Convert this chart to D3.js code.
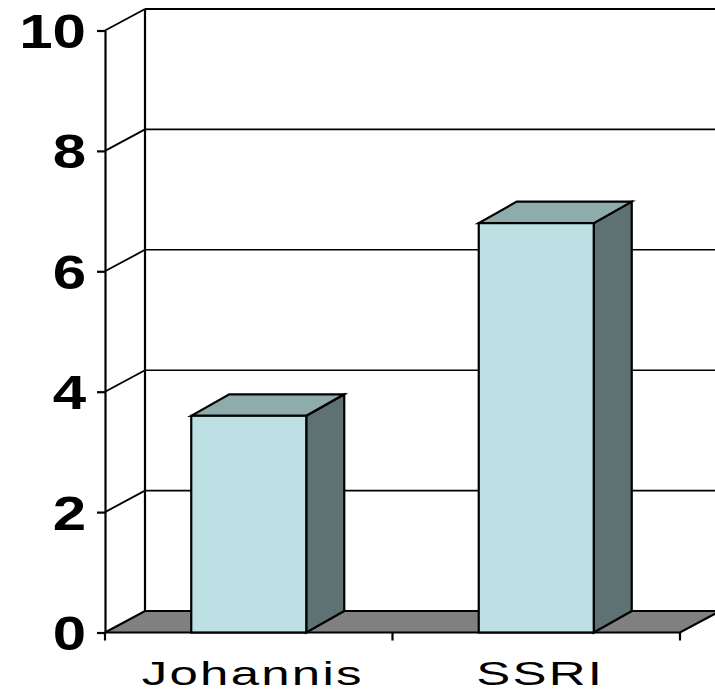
<!DOCTYPE html>
<html>
<head>
<meta charset="utf-8">
<script src="https://cdn.jsdelivr.net/npm/d3@7/dist/d3.min.js"></script>
<style>
  html, body { margin: 0; padding: 0; background: #fff; }
  svg { display: block; }
</style>
</head>
<body>
<svg id="chart" width="715" height="694"></svg>
<script>
// Data
const categories = ["Johannis", "SSRI"];
const values = [3.6, 6.8];
const yTicks = [0, 2, 4, 6, 8, 10];

// Colours
const faceFront = "#bce0e3";
const faceTop = "#8facac";
const faceSide = "#5e7273";
const floorFill = "#808080";

const svg = d3.select("#chart");

// Front plane of the 3-D box
const x = d3.scaleBand().domain(categories).range([105, 680]);
const y = d3.scaleLinear().domain([0, 10]).range([632.5, 30.5]);

// Depth offset of the back wall
const dx = 40, dy = -21.5;
const barDepth = 0.95;

const pt = (a, b) => a + "," + b;

// Back wall gridlines (horizontal) and left wall gridlines (slanted)
const grid = svg.append("g").attr("stroke", "#000").attr("fill", "none");
yTicks.filter(v => v > 0).forEach(v => {
  grid.append("line")
    .attr("x1", x.range()[0] + dx).attr("x2", 760)
    .attr("y1", y(v) + dy).attr("y2", y(v) + dy)
    .attr("stroke-width", v === 10 ? 2.2 : 1.6);
  grid.append("line")
    .attr("x1", x.range()[0]).attr("y1", y(v))
    .attr("x2", x.range()[0] + dx).attr("y2", y(v) + dy)
    .attr("stroke-width", 1.8);
});
// back wall left edge
grid.append("line")
  .attr("x1", x.range()[0] + dx).attr("x2", x.range()[0] + dx)
  .attr("y1", y(10) + dy).attr("y2", y(0) + dy)
  .attr("stroke-width", 2.2);

// Floor
const x0 = x.range()[0], x1 = x.range()[1];
svg.append("polygon")
  .attr("points", [pt(x0, y(0)), pt(x1, y(0)), pt(x1 + dx, y(0) + dy), pt(x0 + dx, y(0) + dy)].join(" "))
  .attr("fill", floorFill)
  .attr("stroke", "#000")
  .attr("stroke-width", 2.2)
  .attr("stroke-linejoin", "miter");

// Bars
const bw = x.bandwidth() * 0.4;
const bdx = dx * barDepth, bdy = dy;
const bars = svg.append("g").selectAll("g")
  .data(categories.map((c, i) => ({ c, v: values[i] })))
  .join("g")
  .attr("stroke", "#000")
  .attr("stroke-width", 2.2)
  .attr("stroke-linejoin", "miter");

bars.each(function (d) {
  const g = d3.select(this);
  const L = x(d.c) + (x.bandwidth() - bw) / 2;
  const R = L + bw;
  const T = y(d.v), B = y(0);
  // side
  g.append("polygon")
    .attr("points", [pt(R, B), pt(R + bdx, B + bdy), pt(R + bdx, T + bdy), pt(R, T)].join(" "))
    .attr("fill", faceSide);
  // top
  g.append("polygon")
    .attr("points", [pt(L, T), pt(R, T), pt(R + bdx, T + bdy), pt(L + bdx, T + bdy)].join(" "))
    .attr("fill", faceTop);
  // front
  g.append("rect")
    .attr("x", L).attr("y", T)
    .attr("width", bw).attr("height", B - T)
    .attr("fill", faceFront);
});

// Value axis
const yAxis = svg.append("g")
  .attr("transform", `translate(${x0},0)`)
  .call(d3.axisLeft(y).tickValues(yTicks).tickSize(8).tickSizeOuter(0).tickFormat(d3.format("d")));
yAxis.select(".domain").attr("stroke", "#000").attr("stroke-width", 2.2);
yAxis.selectAll(".tick line").attr("stroke", "#000").attr("stroke-width", 2.2);
yAxis.selectAll(".tick text")
  .attr("x", null).attr("dy", null)
  .attr("dominant-baseline", null)
  .attr("transform", "translate(-19,17) scale(1.25,1)")
  .attr("text-anchor", "end")
  .attr("fill", "#000")
  .style("font-family", "'Liberation Sans', Arial, sans-serif")
  .style("font-weight", "bold")
  .style("font-size", "48px");

// Category axis: tick marks at band edges, labels centred on bands
const edges = [x0].concat(categories.map(c => x(c) + x.bandwidth()));
svg.append("g").selectAll("line")
  .data(edges)
  .join("line")
  .attr("x1", d => d).attr("x2", d => d)
  .attr("y1", y(0)).attr("y2", y(0) + 8)
  .attr("stroke", "#000").attr("stroke-width", 2.2);

const xAxis = svg.append("g")
  .attr("transform", `translate(0,${y(0)})`)
  .call(d3.axisBottom(x).tickSize(0).tickSizeOuter(0));
xAxis.select(".domain").remove();
xAxis.selectAll(".tick text")
  .attr("y", null).attr("dy", null)
  .attr("transform", "translate(4,52) scale(1.5,1)")
  .attr("text-anchor", "middle")
  .attr("fill", "#000")
  .style("letter-spacing", "1.5px")
  .style("font-family", "'Liberation Sans', Arial, sans-serif")
  .style("font-size", "34px");
</script>
</body>
</html>
